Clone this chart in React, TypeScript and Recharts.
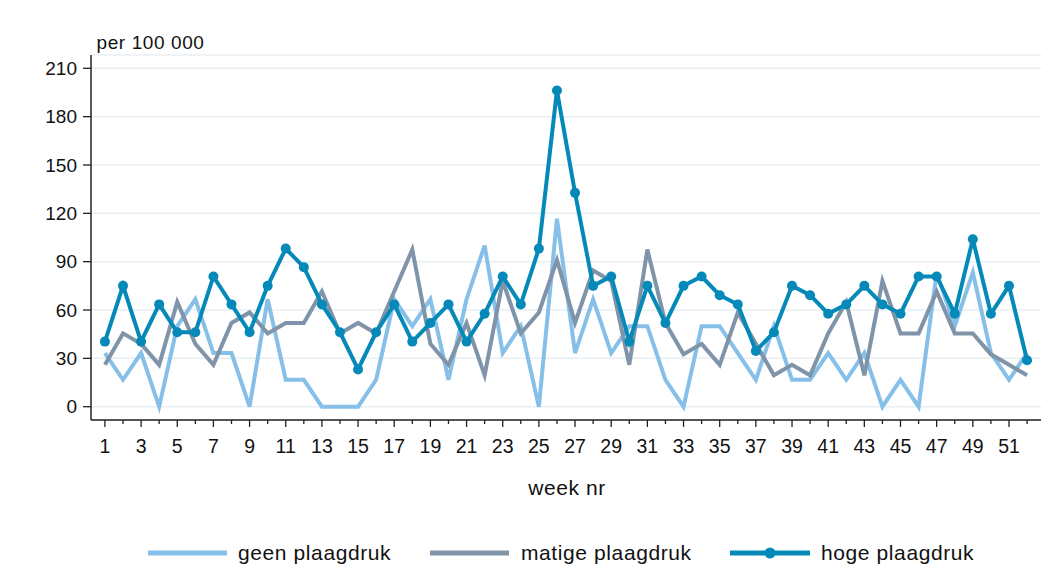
import React from 'react';
import { LineChart, Line, XAxis, YAxis, CartesianGrid } from 'recharts';

const weeks: number[] = Array.from({ length: 52 }, (_, i) => i + 1);

const geen: number[] = [
  33.3, 16.7, 33.3, 0, 50, 66.7, 33.3, 33.3, 0, 66.7,
  16.7, 16.7, 0, 0, 0, 16.7, 66.7, 50, 66.7, 16.7,
  66.7, 100, 33.3, 50, 0, 116.7, 33.3, 66.7, 33.3, 50,
  50, 16.7, 0, 50, 50, 33.3, 16.7, 50, 16.7, 16.7,
  33.3, 16.7, 33.3, 0, 16.7, 0, 83.3, 50, 83.3, 33.3,
  16.7, 33.3,
];

const matige: number[] = [
  26, 45.5, 39, 26, 65, 39, 26, 52, 58.5, 45.5,
  52, 52, 71.5, 45.5, 52, 45.5, 71.5, 97.5, 39, 26,
  52, 19.5, 78, 45.5, 58.5, 91, 52, 84.5, 78, 26,
  97.5, 52, 32.5, 39, 26, 58.5, 39, 19.5, 26, 19.5,
  45.5, 65, 19.5, 78, 45.5, 45.5, 71.5, 45.5, 45.5, 32.5,
  26, 19.5,
];

const hoge: number[] = [
  40.4, 75, 40.4, 63.5, 46.2, 46.2, 80.8, 63.5, 46.2, 75,
  98.1, 86.6, 63.5, 46.2, 23.1, 46.2, 63.5, 40.4, 51.9, 63.5,
  40.4, 57.7, 80.8, 63.5, 98.1, 196.2, 132.7, 75, 80.8, 40.4,
  75, 51.9, 75, 80.8, 69.2, 63.5, 34.6, 46.2, 75, 69.2,
  57.7, 63.5, 75, 63.5, 57.7, 80.8, 80.8, 57.7, 103.9, 57.7,
  75, 28.8,
];

const yTicks: number[] = [0, 30, 60, 90, 120, 150, 180, 210];
const seriesNames: string[] = ['geen plaagdruk', 'matige plaagdruk', 'hoge plaagdruk'];

const COLORS = { geen: '#86c0e9', matige: '#8094a9', hoge: '#0589b8' };
const FONT = 'Arial, "Liberation Sans", Helvetica, sans-serif';

const data = weeks.map((w, i) => ({ week: w, geen: geen[i], matige: matige[i], hoge: hoge[i] }));

const XTick = (props: any) => {
  const { x, y, payload } = props;
  const w = payload.value as number;
  const major = w % 2 === 1;
  return (
    <g>
      <line x1={x} x2={x} y1={y} y2={y + (major ? 7 : 4)} stroke="#222" strokeWidth={1.3} />
      {major && (
        <text x={x} y={y + 32.5} textAnchor="middle" fontSize={19.5} fill="#111" fontFamily={FONT}>
          {w}
        </text>
      )}
    </g>
  );
};

export default function App() {
  return (
    <div style={{ position: 'relative', width: 1040, height: 560, fontFamily: FONT }}>
      <LineChart
        width={1040}
        height={560}
        data={data}
        margin={{ top: 47, right: 7, left: 0, bottom: 0 }}
      >
        <CartesianGrid vertical={false} stroke="#e7eff3" strokeWidth={1.5} />
        <XAxis
          dataKey="week"
          type="number"
          domain={[0.23, 52.77]}
          ticks={weeks}
          interval={0}
          height={148}
          tickLine={false}
          tickSize={0}
          tickMargin={0}
          tick={<XTick />}
          axisLine={{ stroke: '#222', strokeWidth: 1.5 }}
          label={{
            content: () => (
              <text x={559} y={487} textAnchor="middle" fontSize={21} letterSpacing={0.6} fill="#111" fontFamily={FONT}>
                week nr
              </text>
            ),
          }}
        />
        <YAxis
          type="number"
          domain={[-8.25, 218.25]}
          ticks={yTicks}
          interval={0}
          width={83}
          tickSize={8}
          tickMargin={6}
          tick={{ fontSize: 19, fill: '#111', fontFamily: FONT }}
          tickLine={{ stroke: '#222', strokeWidth: 1.3 }}
          axisLine={{ stroke: '#222', strokeWidth: 1.5 }}
          label={{
            content: () => (
              <text x={88.5} y={40.5} fontSize={19} letterSpacing={0.6} fill="#111" fontFamily={FONT}>
                per 100 000
              </text>
            ),
          }}
        />
        <Line
          type="linear"
          dataKey="geen"
          name={seriesNames[0]}
          stroke={COLORS.geen}
          strokeWidth={4}
          dot={false}
          isAnimationActive={false}
        />
        <Line
          type="linear"
          dataKey="matige"
          name={seriesNames[1]}
          stroke={COLORS.matige}
          strokeWidth={4}
          dot={false}
          isAnimationActive={false}
        />
        <Line
          type="linear"
          dataKey="hoge"
          name={seriesNames[2]}
          stroke={COLORS.hoge}
          strokeWidth={4}
          dot={{ r: 5, fill: COLORS.hoge, stroke: COLORS.hoge, strokeWidth: 0 }}
          isAnimationActive={false}
        />
      </LineChart>
      <svg width={1040} height={40} style={{ position: 'absolute', left: 0, top: 525 }}>
        <line x1={140} x2={219} y1={20} y2={20} stroke={COLORS.geen} strokeWidth={5} />
        <text x={230} y={27} fontSize={21} letterSpacing={0.6} fill="#111" fontFamily={FONT}>{seriesNames[0]}</text>
        <line x1={422} x2={501} y1={20} y2={20} stroke={COLORS.matige} strokeWidth={5} />
        <text x={513} y={27} fontSize={21} letterSpacing={0.6} fill="#111" fontFamily={FONT}>{seriesNames[1]}</text>
        <line x1={722} x2={802} y1={20} y2={20} stroke={COLORS.hoge} strokeWidth={5} />
        <circle cx={762} cy={20} r={5.5} fill={COLORS.hoge} />
        <text x={813} y={27} fontSize={21} letterSpacing={0.6} fill="#111" fontFamily={FONT}>{seriesNames[2]}</text>
      </svg>
    </div>
  );
}
